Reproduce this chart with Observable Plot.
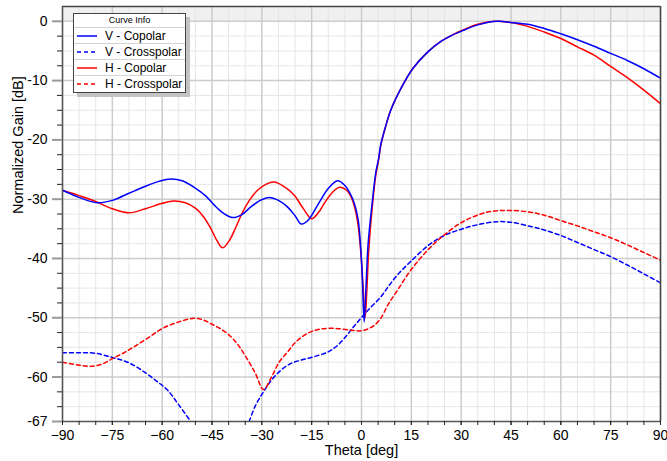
<!DOCTYPE html>
<html><head><meta charset="utf-8">
<script src="https://cdn.jsdelivr.net/npm/d3@7"></script>
<script src="https://cdn.jsdelivr.net/npm/@observablehq/plot@0.6"></script>
<style>
body{margin:0;background:#fff;}
#wrap{position:relative;width:667px;height:461px;font-family:"Liberation Sans",Arial,sans-serif;}
#legend{position:absolute;left:73px;top:13px;width:111px;background:#fff;border:1px solid #444;box-shadow:4px 4px 0 #c4c4c4;color:#000;}
#legend .title{font-size:9px;text-align:center;height:13px;line-height:13px;border-bottom:1px solid #d4d4d4;}
#legend .row{height:15px;display:flex;align-items:center;font-size:12px;border-bottom:1px solid #d4d4d4;}
#legend .row:last-child{border-bottom:none;height:16px;}
#legend svg{margin-left:3px;margin-right:8px;}
</style></head>
<body><div id="wrap"></div>
<script>
// ---- data ----
const seriesNames = ["V - Copolar", "V - Crosspolar", "H - Copolar", "H - Crosspolar"];
const xDomain = [-90, 90];
const yDomain = [-67.5, 2.5];
const xLabelTicks = [-90, -75, -60, -45, -30, -15, 0, 15, 30, 45, 60, 75, 90];
const yLabelTicks = [0, -10, -20, -30, -40, -50, -60, -67.5];
const yTickText = ["0", "-10", "-20", "-30", "-40", "-50", "-60", "-67"];

const vCoX = [-90, -85, -79.5, -75, -70, -65.4, -61, -57.4, -54, -49.8, -47, -44.3, -41.5, -38.8, -36, -33.3, -30.5, -27.8, -25, -22.3, -20, -18.1, -16, -13.2, -10, -7.2, -5, -3, -2, -1, -0.4, 0.2, 0.8, 1.3, 2, 3.3, 4.3, 5.2, 5.8, 7, 8.8, 11.8, 15.4, 19.9, 23.9, 27, 30, 35, 41, 45, 50, 55, 60, 65, 70, 75, 80, 85, 90];
const vCoY = [-28.5, -29.7, -30.6, -30.2, -29.0, -27.9, -27.0, -26.6, -26.9, -28.2, -29.4, -31.0, -32.4, -33.1, -32.6, -31.3, -30.2, -29.7, -30.2, -31.3, -32.8, -34.2, -33.5, -31.0, -28.2, -26.9, -27.7, -29.5, -31.0, -33.5, -37.0, -42.5, -50.7, -45.5, -37.5, -30.2, -25.5, -23.0, -20.8, -18.2, -15.0, -11.4, -8.0, -5.2, -3.4, -2.4, -1.7, -0.6, 0.0, -0.2, -0.5, -1.2, -2.1, -3.1, -4.2, -5.4, -6.6, -8.0, -9.6];

const hCoX = [-90, -85, -80.4, -75, -69.9, -65, -60, -56.6, -53, -49.8, -47.5, -45.3, -43.5, -41.8, -39.8, -37.8, -35.8, -33.5, -31.3, -28.8, -26.3, -23.5, -20.3, -17.5, -15, -13, -11.2, -8.5, -6.5, -4.5, -3, -2, -1, -0.2, 0.5, 1.1, 1.6, 2.2, 3.3, 4.3, 5.2, 5.8, 7, 8.8, 11.8, 15.4, 19.9, 23.9, 27, 30, 35, 40, 45, 50, 55, 60, 65, 70, 75, 80, 85, 90];
const hCoY = [-28.5, -29.4, -30.3, -31.6, -32.3, -31.6, -30.7, -30.3, -30.6, -31.6, -33.0, -35.0, -37.0, -38.2, -37.0, -34.7, -32.2, -30.0, -28.5, -27.5, -27.1, -27.8, -29.3, -31.6, -33.3, -32.3, -30.7, -28.7, -28.0, -28.5, -29.8, -31.5, -34.5, -39.0, -45.0, -49.9, -45.5, -38.5, -31.0, -26.0, -23.2, -20.9, -18.3, -15.0, -11.4, -8.0, -5.2, -3.4, -2.4, -1.6, -0.5, 0.0, -0.2, -0.85, -1.8, -2.9, -4.3, -5.7, -7.6, -9.5, -11.6, -13.9];

const vXpX = [-90, -85, -80, -75, -70, -65, -61.9, -58.4, -55, -51.4, -42, -33.8, -32, -29.5, -27.5, -25.3, -22.5, -20.3, -15.2, -10.2, -7.5, -5.2, -2.5, -0.2, 2.5, 5.8, 8, 10.8, 14.8, 20.8, 25, 29.8, 35, 40.9, 45, 50.9, 55, 59.9, 65, 70, 75, 80, 85, 90];
const vXpY = [-55.9, -55.9, -56.0, -56.7, -57.6, -59.3, -60.6, -62.2, -64.7, -67.5, null, -67.5, -64.9, -62.5, -60.8, -59.4, -58.1, -57.5, -56.7, -55.8, -54.8, -53.5, -51.6, -50.1, -48.4, -46.5, -44.8, -42.8, -40.5, -37.5, -36.1, -35.1, -34.3, -33.8, -33.9, -34.6, -35.2, -36.1, -37.3, -38.5, -39.7, -41.1, -42.6, -44.1];

const hXpX = [-90, -85, -81.5, -78, -75, -71.5, -68.5, -64, -59.9, -55, -50.4, -47.5, -45, -42.3, -39.3, -37, -34.8, -32, -29.5, -27, -24.8, -22, -19.8, -15.8, -12.2, -7.7, -3.2, -0.2, 2.3, 4, 5.8, 8, 10.8, 14.8, 19.9, 23.9, 29.9, 35.9, 40, 44.9, 50.9, 55, 59.9, 65, 70, 75, 80, 85, 90];
const hXpY = [-57.5, -58.0, -58.2, -57.8, -56.9, -55.9, -54.9, -53.3, -51.8, -50.7, -50.1, -50.4, -51.1, -51.9, -53.2, -54.7, -56.6, -59.3, -62.1, -59.9, -57.5, -55.6, -54.1, -52.5, -51.9, -51.8, -52.1, -52.2, -51.8, -51.2, -50.1, -47.8, -45.4, -42.0, -38.6, -36.5, -34.0, -32.5, -32.0, -31.9, -32.2, -32.7, -33.6, -34.5, -35.5, -36.5, -37.7, -39.0, -40.3];

const seriesColors = ["#0000ff", "#0000ff", "#ff0000", "#ff0000"];
const seriesDash = [null, "4,3", null, "4,3"];

// ---- build ----
const toRows = (xs, ys) => xs.map((x, i) => ({x, y: ys[i]}));
const series = [toRows(vCoX, vCoY), toRows(vXpX, vXpY), toRows(hCoX, hCoY), toRows(hXpX, hXpY)];

const xMinor = d3.range(xDomain[0], xDomain[1] + 1, 5).filter(v => !xLabelTicks.includes(v));
const yMajorGrid = yLabelTicks.filter(v => v % 10 === 0);
const yMinorAll = d3.range(0, yDomain[0] - 0.1, -2.5);
const yMinor = yMinorAll.filter(v => !yLabelTicks.includes(v));

const drawOrder = [1, 3, 2, 0];
const lineMarks = drawOrder.map(i => Plot.line(series[i], {
  x: "x", y: "y", stroke: seriesColors[i], strokeWidth: 1.5,
  strokeDasharray: seriesDash[i] || undefined, curve: "catmull-rom", clip: true
}));

const chart = Plot.plot({
  width: 667, height: 461,
  marginLeft: 62, marginRight: 7, marginTop: 6, marginBottom: 40,
  x: {domain: xDomain, label: null},
  y: {domain: yDomain, label: null},
  style: {fontFamily: "'Liberation Sans', Arial, sans-serif", fontSize: "14px", background: "white", color: "#000", overflow: "visible"},
  marks: [
    Plot.rect([0], {x1: xDomain[0], x2: xDomain[1], y1: 0, y2: yDomain[1], fill: "#f0f0f0"}),
    Plot.ruleX(xMinor, {stroke: "#e6e6e6", strokeWidth: 1}),
    Plot.ruleY(yMinor, {stroke: "#e6e6e6", strokeWidth: 1}),
    Plot.ruleX(xLabelTicks, {stroke: "#cccccc", strokeWidth: 1.5}),
    Plot.ruleY(yMajorGrid, {stroke: "#cccccc", strokeWidth: 1.5}),
    ...lineMarks,
    Plot.ruleY([yDomain[1]], {stroke: "#444", strokeWidth: 1.5}),
    Plot.ruleX([xDomain[1]], {stroke: "#444", strokeWidth: 1.5}),
    Plot.ruleX([xDomain[0]], {stroke: "#555", strokeWidth: 1.5}),
    Plot.ruleY([yDomain[0]], {stroke: "#555", strokeWidth: 1.5}),
    Plot.axisX(d3.range(xDomain[0], xDomain[1] + 1, 5), {tickSize: 4, stroke: "#222", tickFormat: () => "", label: null}),
    Plot.axisX(xLabelTicks, {tickSize: 4, tickPadding: 5, stroke: "#222", fontSize: 14, label: null}),
    Plot.axisY(yMinor, {tickSize: 5, stroke: "#222", tickFormat: () => "", label: null}),
    Plot.axisY(yLabelTicks, {tickSize: 10, tickPadding: 5, stroke: "#999", strokeWidth: 2, fontSize: 14, label: null,
      tickFormat: d => yTickText[yLabelTicks.indexOf(d)]}),
    Plot.text(["Theta [deg]"], {frameAnchor: "bottom", dy: 29, lineAnchor: "middle", fontSize: 14.5, fill: "#000"}),
    Plot.text(["Normalized Gain [dB]"], {frameAnchor: "left", dx: -44, rotate: -90, fontSize: 14.5, fill: "#000"})
  ]
});

const wrap = document.getElementById("wrap");
wrap.appendChild(chart);

// legend
const legend = document.createElement("div");
legend.id = "legend";
const title = document.createElement("div");
title.className = "title";
title.textContent = "Curve Info";
legend.appendChild(title);
seriesNames.forEach((name, i) => {
  const row = document.createElement("div");
  row.className = "row";
  const sw = d3.create("svg").attr("width", 20).attr("height", 4);
  sw.append("line").attr("x1", 0).attr("x2", 20).attr("y1", 2).attr("y2", 2)
    .attr("stroke", seriesColors[i]).attr("stroke-width", 1.5)
    .attr("stroke-dasharray", seriesDash[i]);
  row.appendChild(sw.node());
  const t = document.createElement("span");
  t.textContent = name;
  row.appendChild(t);
  legend.appendChild(row);
});
wrap.appendChild(legend);
</script></body></html>
